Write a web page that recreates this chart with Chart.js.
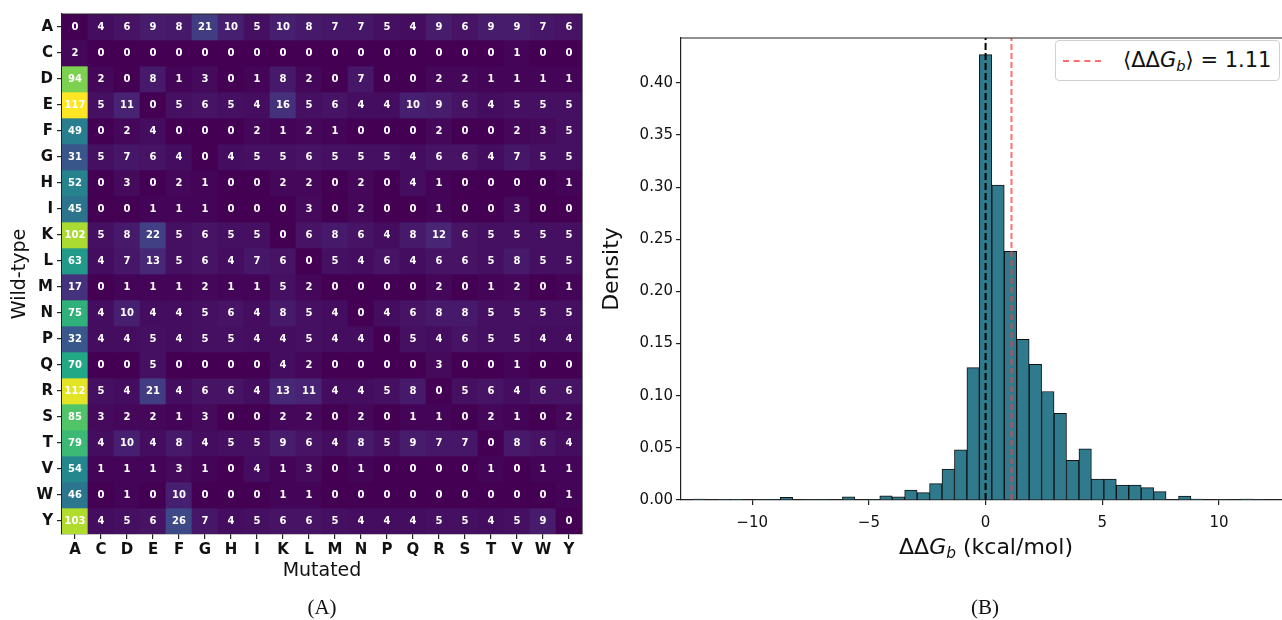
<!DOCTYPE html>
<html>
<head>
<meta charset="utf-8">
<script src="https://cdn.jsdelivr.net/npm/chart.js@4.4.1/dist/chart.umd.min.js"></script>
<style>
  body { margin: 0; background: #fff; overflow: hidden; }
  #wrap { position: relative; width: 1282px; height: 620px; font-family: 'DejaVu Sans', sans-serif; }
  .panel { position: absolute; top: 0; height: 620px; }
  .caption { position: absolute; font-family: 'Liberation Serif', serif; font-size: 21px; color: #111; transform: translate(-50%, -50%); white-space: nowrap; }
  #xlabel-b { position: absolute; left: 986px; top: 548px; transform: translate(-50%, -50%); font-size: 22px; color: #111; white-space: nowrap; }
  #legend-b { position: absolute; left: 1055px; top: 40px; width: 225px; height: 41px; box-sizing: border-box;
    border: 1px solid #d0d0d0; border-radius: 4px; background: #fff; font-size: 21px; color: #111;
    display: flex; align-items: center; white-space: nowrap; }
  #legend-b .sample { width: 38px; margin-left: 7px; margin-right: 22px; border-top: 2px dashed rgba(255, 60, 60, 0.75); }
  sub { font-size: 0.7em; vertical-align: -0.25em; }
</style>
</head>
<body>
<div id="wrap">
  <div class="panel" style="left:0;width:590px;"><canvas id="heatmap"></canvas></div>
  <div class="panel" style="left:590px;width:692px;"><canvas id="hist"></canvas></div>
  <div class="caption" style="left:322px;top:607px;">(A)</div>
  <div class="caption" style="left:985px;top:607px;">(B)</div>
  <div id="xlabel-b">ΔΔ<i>G</i><sub><i>b</i></sub> (kcal/mol)</div>
  <div id="legend-b"><span class="sample"></span><span id="legend-text"></span></div>
</div>
<script>
'use strict';

// ---- panel A: mutation counts (rows = wild-type, cols = mutated) ----
const mutatedLabels = ['A', 'C', 'D', 'E', 'F', 'G', 'H', 'I', 'K', 'L', 'M', 'N', 'P', 'Q', 'R', 'S', 'T', 'V', 'W', 'Y'];
const wildTypeLabels = ['A', 'C', 'D', 'E', 'F', 'G', 'H', 'I', 'K', 'L', 'M', 'N', 'P', 'Q', 'R', 'S', 'T', 'V', 'W', 'Y'];
const mutationCounts = [
  [0, 4, 6, 9, 8, 21, 10, 5, 10, 8, 7, 7, 5, 4, 9, 6, 9, 9, 7, 6],      // A
  [2, 0, 0, 0, 0, 0, 0, 0, 0, 0, 0, 0, 0, 0, 0, 0, 0, 1, 0, 0],         // C
  [94, 2, 0, 8, 1, 3, 0, 1, 8, 2, 0, 7, 0, 0, 2, 2, 1, 1, 1, 1],        // D
  [117, 5, 11, 0, 5, 6, 5, 4, 16, 5, 6, 4, 4, 10, 9, 6, 4, 5, 5, 5],    // E
  [49, 0, 2, 4, 0, 0, 0, 2, 1, 2, 1, 0, 0, 0, 2, 0, 0, 2, 3, 5],        // F
  [31, 5, 7, 6, 4, 0, 4, 5, 5, 6, 5, 5, 5, 4, 6, 6, 4, 7, 5, 5],        // G
  [52, 0, 3, 0, 2, 1, 0, 0, 2, 2, 0, 2, 0, 4, 1, 0, 0, 0, 0, 1],        // H
  [45, 0, 0, 1, 1, 1, 0, 0, 0, 3, 0, 2, 0, 0, 1, 0, 0, 3, 0, 0],        // I
  [102, 5, 8, 22, 5, 6, 5, 5, 0, 6, 8, 6, 4, 8, 12, 6, 5, 5, 5, 5],     // K
  [63, 4, 7, 13, 5, 6, 4, 7, 6, 0, 5, 4, 6, 4, 6, 6, 5, 8, 5, 5],       // L
  [17, 0, 1, 1, 1, 2, 1, 1, 5, 2, 0, 0, 0, 0, 2, 0, 1, 2, 0, 1],        // M
  [75, 4, 10, 4, 4, 5, 6, 4, 8, 5, 4, 0, 4, 6, 8, 8, 5, 5, 5, 5],       // N
  [32, 4, 4, 5, 4, 5, 5, 4, 4, 5, 4, 4, 0, 5, 4, 6, 5, 5, 4, 4],        // P
  [70, 0, 0, 5, 0, 0, 0, 0, 4, 2, 0, 0, 0, 0, 3, 0, 0, 1, 0, 0],        // Q
  [112, 5, 4, 21, 4, 6, 6, 4, 13, 11, 4, 4, 5, 8, 0, 5, 6, 4, 6, 6],    // R
  [85, 3, 2, 2, 1, 3, 0, 0, 2, 2, 0, 2, 0, 1, 1, 0, 2, 1, 0, 2],        // S
  [79, 4, 10, 4, 8, 4, 5, 5, 9, 6, 4, 8, 5, 9, 7, 7, 0, 8, 6, 4],       // T
  [54, 1, 1, 1, 3, 1, 0, 4, 1, 3, 0, 1, 0, 0, 0, 0, 1, 0, 1, 1],        // V
  [46, 0, 1, 0, 10, 0, 0, 0, 1, 1, 0, 0, 0, 0, 0, 0, 0, 0, 0, 1],       // W
  [103, 4, 5, 6, 26, 7, 4, 5, 6, 6, 5, 4, 4, 4, 5, 5, 4, 5, 9, 0],      // Y
];

// ---- panel B: ddG histogram ----
const binCenters = [
  -12.2667, -11.7333, -11.2, -10.6667, -10.1333, -9.6, -9.0667, -8.5333, -8.0, -7.4667,
  -6.9333, -6.4, -5.8667, -5.3333, -4.8, -4.2667, -3.7333, -3.2, -2.6667, -2.1333,
  -1.6, -1.0667, -0.5333, 0.0, 0.5333, 1.0667, 1.6, 2.1333, 2.6667, 3.2,
  3.7333, 4.2667, 4.8, 5.3333, 5.8667, 6.4, 6.9333, 7.4667, 8.0, 8.5333,
  9.0667, 9.6, 10.1333, 10.6667, 11.2, 11.7333,
];
const binDensity = [
  0.001, 0, 0.0007, 0.0007, 0, 0.0005, 0.0005, 0.0025, 0, 0.0005,
  0.0005, 0, 0.003, 0, 0.0005, 0.004, 0.003, 0.0096, 0.007, 0.0157,
  0.0297, 0.048, 0.127, 0.427, 0.302, 0.2385, 0.154, 0.130, 0.104, 0.083,
  0.038, 0.049, 0.020, 0.020, 0.0144, 0.0144, 0.0118, 0.008, 0, 0.0038,
  0.001, 0, 0.0005, 0, 0.001, 0.0005,
];
const histXTicks = [-10, -5, 0, 5, 10];
const histYTicks = [0, 0.05, 0.10, 0.15, 0.20, 0.25, 0.30, 0.35, 0.40];
const zeroLineX = 0;
const meanDdg = 1.11;

const viridisStops = ['#440154', '#482475', '#414487', '#355f8d', '#2a788e', '#21918c', '#22a884', '#44bf70', '#7ad151', '#bddf26', '#fde725'];

function hexToRgb(hex) {
  const n = parseInt(hex.slice(1), 16);
  return [(n >> 16) & 255, (n >> 8) & 255, n & 255];
}

function viridis(t) {
  t = Math.max(0, Math.min(1, t));
  const p = t * (viridisStops.length - 1);
  const i = Math.min(Math.floor(p), viridisStops.length - 2);
  const f = p - i;
  const a = hexToRgb(viridisStops[i]);
  const b = hexToRgb(viridisStops[i + 1]);
  const c = a.map(function (v, k) { return Math.round(v + (b[k] - v) * f); });
  return 'rgb(' + c.join(',') + ')';
}

const maxCount = Math.max.apply(null, mutationCounts.map(function (r) { return Math.max.apply(null, r); }));
const spineColor = '#222';
const tickFontBold = { family: 'DejaVu Sans', size: 15, weight: 'bold' };
const tickFont = { family: 'DejaVu Sans', size: 15 };
const titleFont = { family: 'DejaVu Sans', size: 19 };

Chart.defaults.color = '#111';
Chart.defaults.font.family = 'DejaVu Sans';

const cellLabels = {
  id: 'cellLabels',
  afterDatasetsDraw: function (chart) {
    const ctx = chart.ctx;
    const xs = chart.scales.x;
    const ys = chart.scales.y;
    ctx.save();
    ctx.fillStyle = '#ffffff';
    ctx.font = 'bold 10px "DejaVu Sans"';
    ctx.textAlign = 'center';
    ctx.textBaseline = 'middle';
    mutationCounts.forEach(function (row, r) {
      row.forEach(function (v, c) {
        ctx.fillText(String(v), xs.getPixelForValue(c), ys.getPixelForValue(r + 0.5));
      });
    });
    ctx.restore();
  },
  afterDraw: function (chart) {
    const a = chart.chartArea;
    const ctx = chart.ctx;
    ctx.save();
    ctx.strokeStyle = spineColor;
    ctx.lineWidth = 1.2;
    ctx.beginPath();
    ctx.moveTo(a.left, a.top);
    ctx.lineTo(a.right, a.top);
    ctx.lineTo(a.right, a.bottom);
    ctx.stroke();
    ctx.restore();
  },
};

new Chart(document.getElementById('heatmap'), {
  type: 'bar',
  data: {
    labels: mutatedLabels,
    datasets: wildTypeLabels.map(function (wt, r) {
      return {
        label: wt,
        data: mutationCounts[r].map(function () { return [r, r + 1]; }),
        backgroundColor: mutationCounts[r].map(function (v) { return viridis(v / maxCount); }),
        borderWidth: 0,
        barPercentage: 1,
        categoryPercentage: 1,
        grouped: false,
      };
    }),
  },
  options: {
    responsive: true,
    maintainAspectRatio: false,
    animation: false,
    layout: { padding: { top: 14, right: 8, left: 0, bottom: 0 } },
    plugins: { legend: { display: false }, tooltip: { enabled: false } },
    scales: {
      x: {
        type: 'category',
        grid: { offset: false, drawOnChartArea: false, tickLength: 5, color: spineColor, lineWidth: 1.2 },
        border: { color: spineColor, width: 1.2 },
        ticks: { font: tickFontBold, color: '#111', padding: 2, maxRotation: 0, autoSkip: false },
        title: { display: true, text: 'Mutated', font: titleFont, color: '#111', padding: { top: 0, bottom: 38 } },
        afterFit: function (scale) { scale.height = 86; },
      },
      y: {
        type: 'linear',
        min: 0,
        max: wildTypeLabels.length,
        reverse: true,
        afterBuildTicks: function (scale) {
          scale.ticks = wildTypeLabels.map(function (_, i) { return { value: i + 0.5 }; });
        },
        grid: { drawOnChartArea: false, tickLength: 5, color: spineColor, lineWidth: 1.2 },
        border: { color: spineColor, width: 1.2 },
        ticks: {
          font: tickFontBold,
          color: '#111',
          padding: 4,
          callback: function (value, index) { return wildTypeLabels[index]; },
        },
        title: { display: true, text: 'Wild-type', font: titleFont, color: '#111', padding: { top: 9, bottom: 0 } },
        afterFit: function (scale) { scale.width = 62; },
      },
    },
  },
  plugins: [cellLabels],
});

const refLines = {
  id: 'refLines',
  afterDatasetsDraw: function (chart) {
    const a = chart.chartArea;
    const ctx = chart.ctx;
    const xs = chart.scales.x;
    ctx.save();
    ctx.lineWidth = 2;
    ctx.setLineDash([7, 3]);
    ctx.strokeStyle = '#000';
    let px = xs.getPixelForValue(zeroLineX);
    ctx.beginPath();
    ctx.moveTo(px, a.bottom);
    ctx.lineTo(px, a.top);
    ctx.stroke();
    ctx.setLineDash([6, 3]);
    ctx.strokeStyle = 'rgba(255, 60, 60, 0.75)';
    px = xs.getPixelForValue(meanDdg);
    ctx.beginPath();
    ctx.moveTo(px, a.bottom);
    ctx.lineTo(px, a.top);
    ctx.stroke();
    ctx.setLineDash([]);
    ctx.strokeStyle = spineColor;
    ctx.lineWidth = 1.2;
    ctx.beginPath();
    ctx.moveTo(a.left, a.top);
    ctx.lineTo(a.right, a.top);
    ctx.stroke();
    ctx.restore();
  },
};

new Chart(document.getElementById('hist'), {
  type: 'bar',
  data: {
    datasets: [{
      label: 'Density',
      data: binCenters.map(function (x, i) { return { x: x, y: binDensity[i] }; }),
      backgroundColor: '#2f7a8c',
      borderColor: '#111',
      borderWidth: 1,
      barPercentage: 1,
      categoryPercentage: 1,
    }],
  },
  options: {
    responsive: true,
    maintainAspectRatio: false,
    animation: false,
    layout: { padding: { top: 38, right: 0, left: 0, bottom: 0 } },
    plugins: { legend: { display: false }, tooltip: { enabled: false } },
    scales: {
      x: {
        type: 'linear',
        min: -13.05,
        max: 12.7,
        offset: false,
        afterBuildTicks: function (scale) {
          scale.ticks = histXTicks.map(function (v) { return { value: v }; });
        },
        grid: { offset: false, drawOnChartArea: false, tickLength: 5, color: spineColor, lineWidth: 1.2 },
        border: { color: spineColor, width: 1.2 },
        ticks: {
          font: tickFont,
          color: '#111',
          padding: 9,
          maxRotation: 0,
          callback: function (v) { return v < 0 ? '\u2212' + Math.abs(v) : String(v); },
        },
        afterFit: function (scale) { scale.height = 120; },
      },
      y: {
        type: 'linear',
        min: 0,
        max: 0.443,
        afterBuildTicks: function (scale) {
          scale.ticks = histYTicks.map(function (v) { return { value: v }; });
        },
        grid: { drawOnChartArea: false, tickLength: 5, color: spineColor, lineWidth: 1.2 },
        border: { color: spineColor, width: 1.2 },
        ticks: {
          font: tickFont,
          color: '#111',
          padding: 3,
          callback: function (v) { return Number(v).toFixed(2); },
        },
        title: { display: true, text: 'Density', font: { family: 'DejaVu Sans', size: 22 }, color: '#111', padding: { top: 9, bottom: 0 } },
        afterFit: function (scale) { scale.width = 91; },
      },
    },
  },
  plugins: [refLines],
});

document.getElementById('legend-text').innerHTML = '\u27E8\u0394\u0394<i>G</i><sub><i>b</i></sub>\u27E9 = ' + meanDdg.toFixed(2);
</script>
</body>
</html>
